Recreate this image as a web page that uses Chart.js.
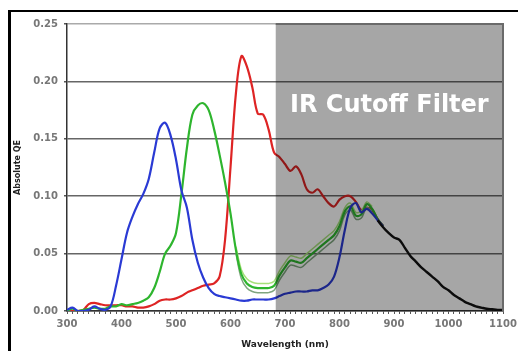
<!DOCTYPE html>
<html>
<head>
<meta charset="utf-8">
<script src="https://cdn.jsdelivr.net/npm/chart.js@4/dist/chart.umd.min.js"></script>
<style>
  html, body { margin: 0; padding: 0; background: #fff; }
  #wrap { width: 518px; height: 351px; position: relative; }
</style>
</head>
<body>
<div id="wrap"><canvas id="qe"></canvas></div>
<script>
// wavelength grid (nm) for the three colour channels
const nm = [300,310,320,330,340,350,360,370,380,390,400,410,420,430,440,450,460,470,480,490,
            500,510,520,530,540,550,560,570,580,590,600,610,620,630,640,650,660,670,680,690,
            700,710,720,730,740,750,760,770,780,790,800,810,820,830,840,850,860,870,880];

const blueQE = [0.001,0.003,0.000,0.000,0.001,0.004,0.002,0.001,0.004,0.022,0.045,0.068,0.082,0.093,0.102,0.115,0.138,0.159,0.164,0.153,
                0.132,0.105,0.090,0.062,0.042,0.029,0.020,0.015,0.013,0.012,0.011,0.010,0.009,0.009,0.010,0.010,0.010,0.010,0.011,0.013,
                0.015,0.016,0.017,0.017,0.017,0.018,0.018,0.020,0.023,0.030,0.047,0.071,0.090,0.094,0.086,0.089,0.085,0.079,0.074];

const greenQE = [0.000,0.002,0.000,0.001,0.002,0.003,0.002,0.002,0.004,0.004,0.006,0.005,0.006,0.007,0.009,0.012,0.020,0.034,0.050,0.057,
                 0.068,0.102,0.142,0.171,0.179,0.181,0.175,0.158,0.136,0.112,0.085,0.053,0.032,0.024,0.021,0.020,0.020,0.020,0.022,0.031,
                 0.038,0.044,0.043,0.042,0.046,0.050,0.054,0.058,0.062,0.066,0.074,0.087,0.091,0.083,0.084,0.093,0.089,0.080,0.074];

const redQE = [0.000,0.000,0.000,0.001,0.006,0.007,0.006,0.005,0.005,0.005,0.005,0.004,0.004,0.003,0.003,0.004,0.006,0.009,0.010,0.010,
               0.011,0.013,0.016,0.018,0.020,0.022,0.023,0.024,0.030,0.062,0.125,0.190,0.222,0.213,0.195,0.172,0.171,0.158,0.138,0.134,
               0.128,0.122,0.126,0.119,0.106,0.103,0.106,0.100,0.094,0.091,0.097,0.100,0.100,0.095,0.088,0.090,0.088,0.080,0.074];

// the other green pixels (upper / lower traces) seen from 610 to 860 nm
const greenNm = [610,620,630,640,650,660,670,680,690,700,710,720,730,740,750,760,770,780,790,800,810,820,830,840,850,860];
const greenHiQE = [0.056,0.036,0.028,0.025,0.024,0.024,0.024,0.026,0.035,0.042,0.048,0.047,0.046,0.050,0.054,0.058,0.062,0.066,0.070,0.078,0.090,0.094,0.086,0.087,0.095,0.091];
const greenLoQE = [0.050,0.028,0.020,0.017,0.016,0.016,0.016,0.018,0.027,0.034,0.040,0.039,0.038,0.042,0.046,0.050,0.054,0.058,0.062,0.070,0.084,0.088,0.080,0.081,0.090,0.087];

// all channels merge into one dark trace in the NIR
const tailNm = [870,880,890,900,910,920,930,940,950,960,970,980,990,1000,1010,1020,1030,1040,1050,1060,1070,1080,1090,1100];
const tailQE = [0.079,0.073,0.068,0.064,0.062,0.055,0.048,0.043,0.038,0.034,0.030,0.026,0.021,0.018,0.014,0.011,0.008,0.006,0.004,0.003,0.002,0.0015,0.001,0.001];

const CUTOFF_NM = 683;
const yMajor = v => Math.round(v * 100) % 5 === 0;

const pts = (xs, ys) => xs.map((x, i) => ({ x, y: ys[i] }));

const line = (label, xs, ys, color, order, width) => ({
  label,
  data: pts(xs, ys),
  borderColor: color,
  borderWidth: width || 2.2,
  pointRadius: 0,
  tension: 0.35,
  fill: false,
  order
});

// IR cutoff shading, frame and label
const irFilter = {
  id: 'irFilter',
  beforeDraw(chart) {
    const { ctx, width, height } = chart;
    ctx.save();
    ctx.fillStyle = '#fff';
    ctx.fillRect(0, 0, width, height);
    ctx.restore();
  },
  afterDatasetsDraw(chart) {
    const { ctx, chartArea: a, scales: { x, y } } = chart;
    const left = x.getPixelForValue(CUTOFF_NM);
    ctx.save();
    ctx.globalCompositeOperation = 'multiply';
    ctx.fillStyle = '#a6a6a6';
    ctx.fillRect(left, a.top, a.right - left, a.bottom - a.top);
    ctx.restore();

    ctx.save();
    ctx.strokeStyle = '#6a6a6a';
    ctx.lineWidth = 2;
    ctx.beginPath();
    ctx.moveTo(left, a.top);
    ctx.lineTo(a.right, a.top);
    ctx.lineTo(a.right, a.bottom);
    ctx.stroke();

    ctx.fillStyle = '#fff';
    ctx.font = 'bold 24px "DejaVu Sans", Verdana, sans-serif';
    ctx.textAlign = 'center';
    ctx.textBaseline = 'middle';
    ctx.fillText('IR Cutoff Filter', (left + a.right) / 2, y.getPixelForValue(0.179));
    ctx.restore();
  },
  afterDraw(chart) {
    const { ctx, width, height } = chart;
    ctx.save();
    ctx.fillStyle = '#000';
    ctx.fillRect(8, 10, width - 8, 2);
    ctx.fillRect(8, 10, 3, height - 10);
    ctx.restore();
  }
};

const tickFont = { family: '"DejaVu Sans", Verdana, sans-serif', size: 10, weight: 'bold' };

new Chart(document.getElementById('qe'), {
  type: 'line',
  data: {
    datasets: [
      line('Tail', tailNm, tailQE, '#111111', 0, 2.4),
      line('Blue', nm, blueQE, '#2a3ad4', 1),
      line('Green (lo)', greenNm, greenLoQE, '#7fa57f', 4, 1.5),
      line('Green (hi)', greenNm, greenHiQE, '#a6e07a', 3, 1.5),
      line('Green', nm, greenQE, '#2eb52e', 2),
      line('Red', nm, redQE, '#de2424', 5)
    ]
  },
  options: {
    responsive: true,
    maintainAspectRatio: false,
    animation: false,
    layout: { padding: { top: 24, right: 15, left: 0, bottom: 0 } },
    plugins: {
      legend: { display: false },
      tooltip: { enabled: false }
    },
    scales: {
      x: {
        type: 'linear',
        min: 300,
        max: 1100,
        afterFit: s => { s.height = 40; s.paddingRight = 0; s.paddingLeft = 0; },
        border: { color: '#333', width: 1.5 },
        grid: { drawOnChartArea: false, tickLength: 3, tickColor: '#555' },
        ticks: {
          stepSize: 10,
          autoSkip: false,
          maxRotation: 0,
          padding: 4,
          color: '#777',
          font: tickFont,
          callback: v => (v % 100 === 0 ? String(v) : '')
        },
        title: {
          display: true,
          text: 'Wavelength (nm)',
          color: '#222',
          font: { family: '"DejaVu Sans", Verdana, sans-serif', size: 9, weight: 'bold' },
          padding: { top: 0, bottom: 1 }
        }
      },
      y: {
        min: 0,
        max: 0.25,
        afterFit: s => { s.width = 67; s.paddingTop = 0; s.paddingBottom = 0; },
        border: { color: '#333', width: 1.5 },
        grid: {
          color: ctx => (yMajor(ctx.tick.value) ? (ctx.tick.value > 0.24 ? '#aaaaaa' : '#666666') : 'rgba(0,0,0,0)'),
          lineWidth: ctx => (yMajor(ctx.tick.value) ? 1.6 : 0),
          tickColor: '#555',
          tickLength: 3
        },
        ticks: {
          stepSize: 0.01,
          autoSkip: false,
          padding: 6,
          color: '#777',
          font: tickFont,
          callback: v => (yMajor(v) ? v.toFixed(2) : '')
        },
        title: {
          display: true,
          text: 'Absolute QE',
          color: '#222',
          font: { family: '"DejaVu Sans", Verdana, sans-serif', size: 8, weight: 'bold' },
          padding: { top: 13, bottom: 0 }
        }
      }
    }
  },
  plugins: [irFilter]
});
</script>
</body>
</html>
